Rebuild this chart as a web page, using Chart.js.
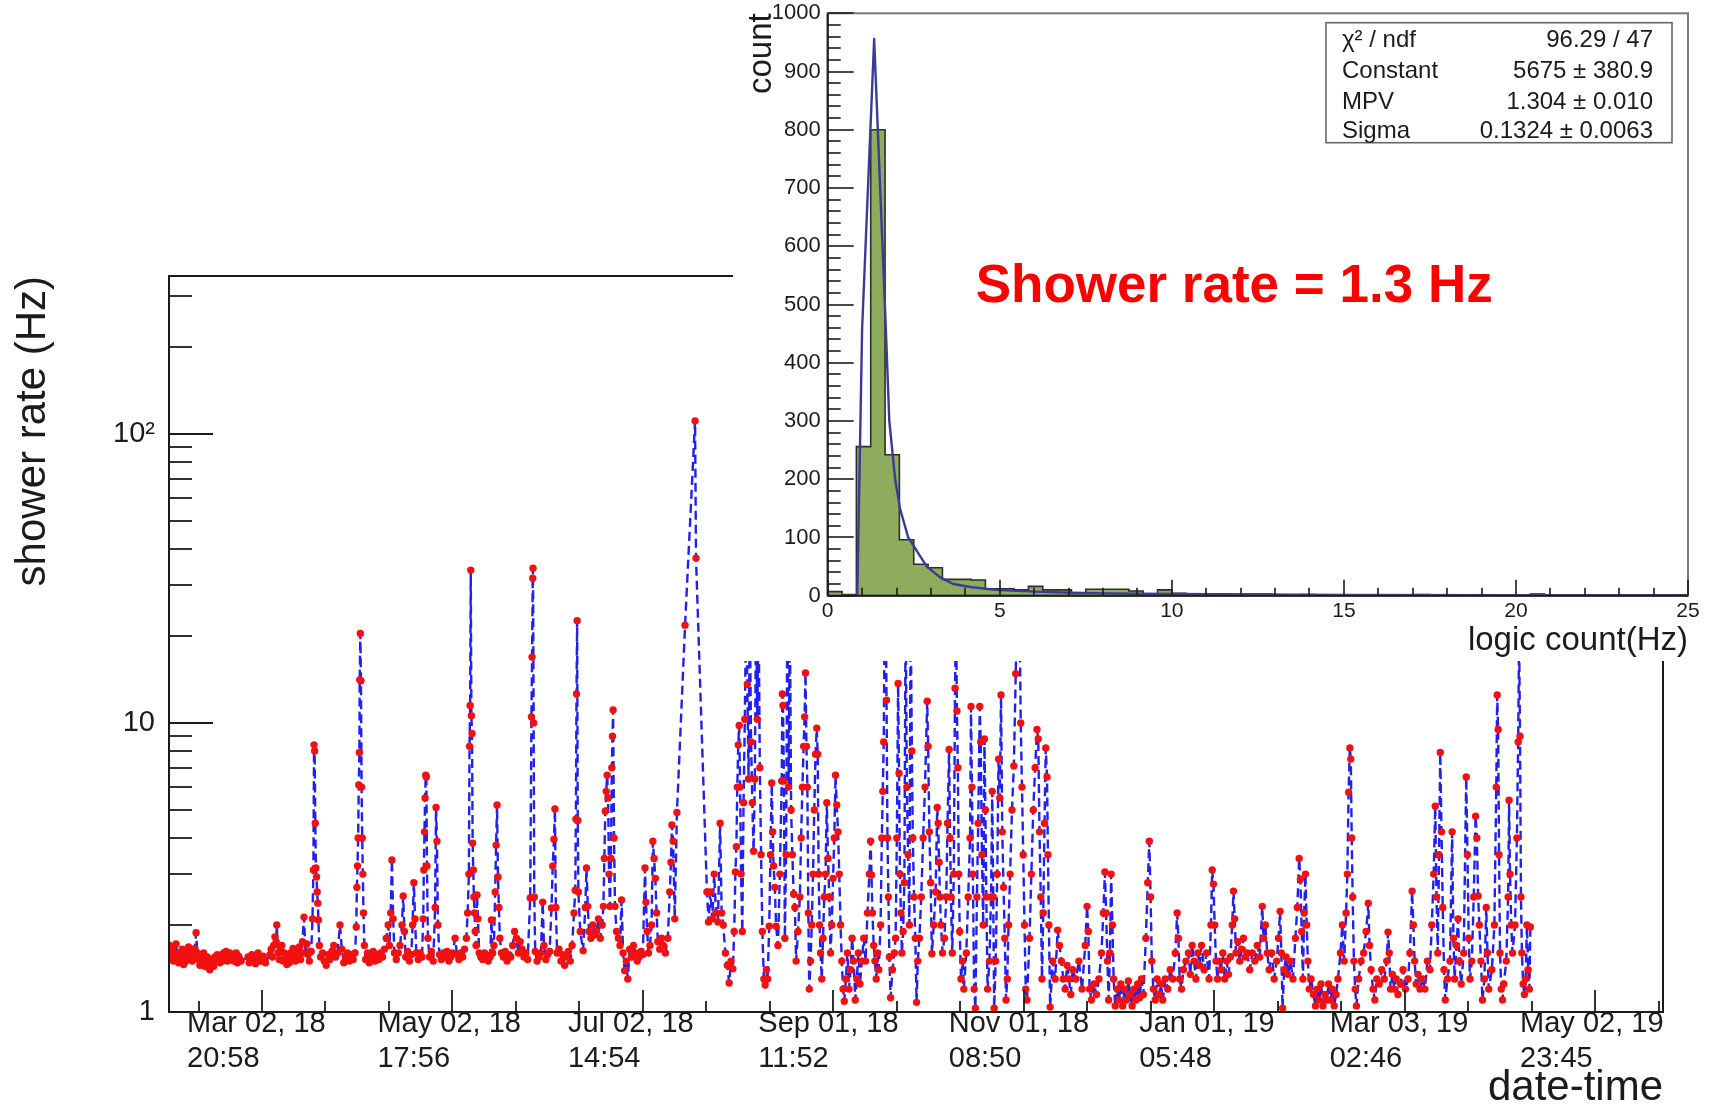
<!DOCTYPE html>
<html>
<head>
<meta charset="utf-8">
<script src="https://cdn.jsdelivr.net/npm/chart.js@4.4.1/dist/chart.umd.min.js"></script>
<style>
  html, body { margin: 0; padding: 0; background: #fff; overflow: hidden; }
  #wrap { position: relative; width: 1710px; height: 1104px; }
  #rate { position: absolute; left: 0; top: 0; }
  #hist { position: absolute; left: 733px; top: 0; background: #fff; }
</style>
</head>
<body>
<div id="wrap">
  <canvas id="rate" width="1710" height="1104"></canvas>
  <canvas id="hist" width="977" height="661"></canvas>
</div>
<script>
// shower rate vs time; time in days since 2018-01-01 00:00
const rateDays = [
  31.0, 31.4, 31.8, 32.2, 32.6, 33.0, 33.4, 33.8, 34.2, 34.6,
  35.0, 35.4, 35.8, 36.2, 36.6, 37.0, 37.4, 37.8, 38.2, 38.6,
  39.0, 39.4, 39.8, 40.2, 40.6, 41.0, 41.4, 41.8, 42.2, 42.6,
  43.0, 43.4, 43.8, 44.2, 44.6, 45.0, 45.4, 45.8, 46.2, 46.6,
  47.0, 47.4, 47.8, 48.2, 48.6, 49.0, 49.4, 49.8, 50.2, 50.6,
  51.0, 51.4, 51.8, 52.2, 52.6, 53.0, 53.4, 53.8, 54.2, 56.4,
  56.8, 57.2, 57.6, 58.0, 58.4, 58.8, 59.2, 59.6, 60.0, 60.4,
  60.8, 61.2, 61.6, 62.0, 63.4, 63.8, 64.2, 64.6, 65.0, 65.4,
  65.6, 66.0, 66.4, 66.8, 67.2, 67.6, 68.0, 68.4, 68.8, 69.2,
  69.6, 70.0, 70.4, 70.8, 71.2, 71.6, 72.0, 72.4, 72.8, 73.2,
  73.6, 73.8, 74.3, 74.8, 75.2, 75.6, 76.0, 76.3,
  76.6, 77.0, 77.3, 77.5, 77.7, 77.9, 78.1, 78.3, 78.5, 78.7,
  78.9, 79.2, 79.6, 80.2, 80.8, 81.4, 82.0, 82.6, 83.2, 83.8,
  84.4, 85.0, 85.8, 86.4, 87.0, 87.6, 88.2, 88.8, 89.4, 90.0,
  90.6, 91.0, 91.2, 91.4, 91.6, 91.8, 92.0, 92.1, 92.3, 92.5,
  92.7, 92.9, 93.1, 93.3, 93.6, 94.0, 94.6, 95.2, 95.8, 96.4,
  97.0, 97.6, 98.2, 98.8, 99.4, 100.0, 100.6, 101.2, 101.6, 102.0,
  102.4, 102.8, 103.2, 103.8, 104.4, 105.0, 105.6, 106.0, 106.4, 106.8,
  107.4, 108.0, 108.6, 109.0, 109.4, 109.8, 110.2, 110.8, 111.4, 112.0,
  112.4, 112.6, 112.8, 113.0, 113.2, 113.4, 113.6, 113.9, 114.4, 115.0,
  115.6, 116.2, 116.5, 116.8, 117.1, 117.6, 118.2, 118.8, 119.4, 120.0,
  120.6, 121.2, 121.8, 122.6, 123.2, 123.8, 124.4, 125.0, 125.6, 126.2,
  126.6, 127.0, 127.2, 127.4, 127.6, 127.8, 128.0, 128.2, 128.4, 128.6,
  128.8, 129.0, 129.3, 129.6, 129.9, 130.3, 130.8, 131.4, 132.0, 132.6,
  133.2, 133.8, 134.2, 134.6, 135.0, 135.4, 135.7, 136.0, 136.3, 136.6,
  136.9, 137.4, 138.0, 138.6, 139.2, 139.8, 140.4, 141.0, 141.6, 142.2,
  142.8, 143.4, 144.0, 144.6, 145.2, 145.8, 146.6, 147.0, 147.2, 147.4,
  147.5, 147.7, 147.9, 148.2, 148.8, 149.4, 150.0, 150.6, 151.0, 151.6,
  152.2, 152.8, 153.4, 153.8, 154.2, 154.5, 154.8, 155.2, 155.8, 156.4,
  157.0, 157.6, 158.2, 158.8, 159.4, 160.0, 160.6, 161.0, 161.2, 161.4,
  161.6, 161.8, 162.0, 162.6, 163.5, 164.2, 164.6, 165.0, 165.4, 166.0,
  166.6, 167.2, 167.8, 168.4, 169.0, 169.6, 170.0, 170.3, 170.6, 170.9,
  171.2, 171.5, 171.8, 172.1, 172.4, 172.7, 172.9, 173.1, 173.4, 173.7,
  174.2, 174.8, 175.3, 175.8, 176.3, 176.8, 177.3, 177.8, 178.4, 179.0,
  179.6, 180.2, 180.8, 181.4, 182.0, 182.6, 183.3, 183.6, 184.0, 184.4,
  184.9, 185.4, 185.8, 186.2, 186.6, 187.0, 187.4, 188.0, 188.6, 189.2,
  189.8, 190.6, 191.2, 191.6, 191.9, 192.3, 192.8, 193.5, 196.1, 199.3,
  199.6, 203.1, 203.6, 204.2, 204.8, 205.4, 206.0, 206.6, 207.3, 207.8,
  208.3, 209.0, 209.6, 210.2, 210.8, 211.4, 211.8, 212.2, 212.5, 212.8,
  213.1, 213.4, 213.7, 214.0, 214.4, 214.8, 215.2, 215.6, 216.0, 216.4,
  216.8, 217.2, 217.6, 218.0, 218.4, 218.8, 219.2, 219.6, 220.0, 220.4,
  220.8, 221.3, 221.7, 222.1, 222.5, 223.0, 223.4, 223.8, 224.1, 224.4,
  224.8, 225.2, 225.8, 226.4, 227.0, 227.2, 227.4, 227.7, 228.0, 228.4,
  228.8, 229.2, 229.6, 230.0, 230.4, 230.8, 231.2, 231.6, 232.2, 232.8,
  233.2, 233.6, 234.0, 234.3, 234.6, 234.9, 235.2, 235.5, 235.8, 236.2,
  236.6, 237.0, 237.4, 237.8, 238.2, 238.5, 238.8, 239.1, 239.4, 239.8,
  240.2, 240.6, 241.0, 241.4, 241.8, 242.2, 242.6, 243.0, 243.4, 243.8,
  244.2, 244.6, 245.0, 245.4, 245.8, 246.2, 246.6, 247.0, 247.5, 248.0,
  248.5, 249.0, 249.5, 250.0, 250.5, 251.0, 251.5, 252.0, 252.6, 253.2,
  253.8, 254.4, 255.0, 255.4, 255.7, 256.0, 256.4, 256.8, 257.2, 257.6,
  258.0, 258.6, 259.0, 259.3, 259.6, 259.9, 260.2, 260.5, 260.8, 261.1,
  261.4, 261.8, 262.4, 263.0, 263.4, 263.8, 264.2, 264.5, 264.8, 265.1,
  265.4, 265.8, 266.2, 266.6, 267.0, 267.4, 267.8, 268.2, 268.6, 268.9,
  269.3, 269.7, 270.1, 270.5, 271.0, 271.6, 272.2, 272.8, 273.5, 273.8,
  274.2, 274.6, 275.0, 275.6, 276.2, 276.7, 277.0, 277.3, 277.6, 277.9,
  278.4, 279.0, 279.6, 280.0, 280.5, 280.8, 281.1, 281.5, 282.0, 282.4,
  282.7, 283.0, 283.3, 283.6, 283.9, 284.3, 284.8, 285.2, 286.0, 286.6,
  287.2, 287.5, 287.8, 288.1, 288.5, 288.9, 289.4, 289.8, 290.3, 290.6,
  291.0, 291.4, 291.8, 292.1, 292.4, 292.8, 293.4, 293.9, 294.3, 294.6,
  294.9, 295.4, 295.9, 296.3, 296.7, 297.1, 297.5, 297.9, 298.3, 298.7,
  299.1, 299.5, 300.0, 300.6, 301.2, 301.8, 302.2, 302.6, 303.0, 303.4,
  303.8, 304.2, 304.6, 305.0, 305.4, 306.2, 306.8, 307.4, 308.0, 308.6,
  309.0, 309.4, 309.8, 310.2, 310.6, 311.0, 311.4, 311.8, 312.1, 312.4,
  312.8, 313.6, 314.4, 315.2, 315.8, 316.4, 317.0, 317.6, 318.2, 318.8,
  319.4, 320.0, 321.0, 322.0, 323.0, 324.0, 324.6, 325.0, 325.4, 326.0,
  326.8, 327.6, 328.4, 329.2, 329.8, 330.3, 330.7, 331.1, 331.5, 331.9,
  332.3, 332.7, 333.1, 333.6, 334.2, 334.8, 335.4, 336.0, 336.6, 337.2,
  337.8, 338.4, 339.0, 339.6, 340.2, 340.8, 341.4, 342.0, 342.6, 343.4,
  344.0, 344.5, 344.9, 345.3, 345.8, 346.4, 347.0, 347.6, 348.2, 348.8,
  349.6, 350.4, 351.2, 352.0, 352.8, 353.4, 353.8, 354.2, 354.8, 355.4,
  356.2, 357.0, 357.6, 358.2, 358.8, 359.4, 360.0, 360.6, 361.2, 362.0,
  362.8, 363.6, 364.2, 364.6, 365.0, 365.4, 365.8, 366.3, 366.8, 367.4,
  368.0, 368.6, 369.2, 369.8, 370.4, 371.0, 371.4, 371.8, 372.2, 372.8,
  373.4, 374.0, 374.6, 375.2, 375.8, 376.6, 377.4, 378.2, 379.0, 379.8,
  380.6, 381.0, 381.6, 382.2, 382.8, 383.6, 384.4, 385.2, 385.8, 386.3,
  386.7, 387.1, 387.6, 388.2, 388.8, 389.6, 390.4, 391.2, 391.8, 392.4,
  392.8, 393.2, 393.6, 394.0, 394.4, 394.8, 395.2, 395.6, 396.2, 397.0,
  397.6, 398.2, 398.8, 399.4, 400.0, 400.6, 401.2, 401.8, 402.4, 403.0,
  403.6, 404.2, 404.8, 405.6, 406.2, 406.8, 407.4, 407.8, 408.2, 408.6,
  408.9, 409.2, 409.5, 409.9, 410.3, 410.7, 411.4, 412.2, 413.0, 413.8,
  414.5, 414.9, 415.4, 416.0, 416.6, 417.2, 418.0, 418.8, 419.6, 420.4,
  420.8, 421.2, 421.6, 422.2, 422.8, 423.4, 424.0, 424.8, 425.6, 426.4,
  427.2, 427.8, 428.5, 428.9, 429.3, 429.8, 430.4, 431.0, 431.8, 432.6,
  433.4, 434.2, 434.8, 435.4, 435.9, 436.3, 436.7, 437.1, 437.5, 437.9,
  438.3, 438.7, 439.1, 439.8, 440.6, 441.3, 441.7, 442.1, 442.7, 443.2,
  443.6, 444.2, 445.0, 445.8, 446.2, 446.6, 447.0, 447.6, 448.2, 448.8,
  449.2, 449.6, 450.0, 450.5, 451.0, 451.6, 452.2, 452.6, 453.0, 454.0,
  454.8, 455.4, 455.7, 456.0, 456.3, 456.6, 457.0, 457.4, 457.8, 458.6,
  459.2, 459.5, 459.8, 460.2, 460.6, 461.4, 462.0, 462.4, 462.7, 463.0,
  463.3, 463.6, 464.0, 464.4, 464.8, 465.2, 465.6, 466.0, 466.3
];
const rateHz = [
  1.62, 1.7, 1.55, 1.66, 1.5, 1.6, 1.72, 1.55, 1.48, 1.6,
  1.52, 1.65, 1.46, 1.58, 1.5, 1.62, 1.68, 1.54, 1.6, 1.5,
  1.58, 1.66, 1.88, 1.6, 1.52, 1.45, 1.56, 1.5, 1.6, 1.44,
  1.5, 1.55, 1.42, 1.4, 1.47, 1.52, 1.44, 1.55, 1.5, 1.58,
  1.52, 1.48, 1.56, 1.5, 1.6, 1.54, 1.62, 1.5, 1.57, 1.6,
  1.52, 1.58, 1.5, 1.55, 1.6, 1.48, 1.56, 1.52, 1.5, 1.55,
  1.48, 1.52, 1.58, 1.5, 1.55, 1.47, 1.53, 1.6, 1.5, 1.55,
  1.5, 1.56, 1.52, 1.48, 1.58, 1.65, 1.55, 1.7, 1.82, 1.75,
  2.0, 1.6, 1.52, 1.65, 1.7, 1.5, 1.6, 1.58, 1.46, 1.55,
  1.48, 1.6, 1.52, 1.66, 1.55, 1.5, 1.62, 1.56, 1.68, 1.52,
  1.6, 1.75, 2.13, 1.6, 1.72, 1.58, 1.5, 1.62,
  1.62, 2.1, 3.1, 8.4, 8.0, 4.5, 3.15, 2.93, 2.6, 2.38,
  2.08, 1.7, 1.55, 1.6, 1.5, 1.45, 1.58, 1.52, 1.62, 1.7,
  1.55, 1.6, 2.0, 1.65, 1.48, 1.55, 1.6, 1.5, 1.58, 1.52,
  1.6, 1.97, 2.7, 3.2, 4.0, 6.1, 7.9, 14.1, 20.4, 14.0,
  6.0, 4.0, 3.0, 2.2, 1.7, 1.52, 1.6, 1.48, 1.55, 1.62,
  1.5, 1.58, 1.52, 1.6, 1.55, 1.65, 1.8, 2.0, 1.7, 2.2,
  3.36, 2.1, 1.6, 1.52, 1.6, 1.7, 2.0, 2.52, 1.9, 1.55,
  1.62, 1.5, 1.58, 2.0, 2.8, 2.1, 1.6, 1.52, 1.6, 1.55,
  2.1, 3.1, 4.2, 5.5, 6.6, 6.5, 3.2, 1.8, 1.55, 1.62,
  1.5, 2.3, 5.1, 3.9, 2.0, 1.58, 1.52, 1.6, 1.55, 1.62,
  1.5, 1.55, 1.6, 1.8, 1.58, 1.52, 1.6, 1.55, 1.65, 1.8,
  2.2, 3.0, 8.3, 11.5, 33.8, 10.6, 9.2, 3.84, 3.1, 2.5,
  2.2, 1.9, 1.7, 2.54, 2.1, 1.6, 1.55, 1.52, 1.6, 1.58,
  1.5, 1.55, 2.08, 1.6, 1.7, 2.6, 3.78, 5.2, 2.93, 2.3,
  1.8, 1.6, 1.55, 1.62, 1.5, 1.58, 1.55, 1.7, 1.9, 1.8,
  1.6, 1.75, 1.65, 1.55, 1.6, 1.52, 2.48, 10.5, 16.9, 31.7,
  34.3, 10.0, 2.5, 1.62, 1.5, 1.55, 1.6, 2.4, 1.7, 1.52,
  1.58, 1.62, 2.29, 3.2, 3.96, 5.04, 2.3, 1.6, 1.65, 1.5,
  1.58, 1.45, 1.55, 1.62, 1.5, 1.7, 2.2, 2.64, 4.65, 12.6,
  22.6, 4.6, 2.6, 1.9, 1.63, 2.3, 3.15, 2.32, 1.9, 1.8,
  2.0, 1.85, 1.9, 2.1, 1.8, 2.0, 2.32, 3.4, 4.95, 5.8,
  6.6, 5.5, 3.0, 2.32, 3.4, 7.0, 9.0, 11.1, 4.0, 2.32,
  1.9, 1.8, 1.7, 2.44, 1.6, 1.39, 1.5, 1.3, 1.65, 1.55,
  1.7, 1.6, 1.5, 1.55, 1.62, 1.58, 3.15, 2.4, 1.9, 1.6,
  1.7, 2.0, 3.9, 3.4, 2.9, 2.2, 1.75, 1.65, 1.8, 1.7,
  1.6, 1.8, 2.6, 3.3, 4.44, 3.9, 2.1, 4.9, 21.8, 111,
  37.2, 2.6, 2.05, 2.6, 2.1, 3.0, 2.2, 2.05, 4.5, 2.2,
  2.0, 1.6, 1.45, 1.26, 1.5, 1.41, 1.9, 3.05, 3.73, 6.0,
  8.4, 9.8, 6.0, 3.0, 1.9, 5.3, 10.3, 25, 13.6, 6.4,
  25, 8.6, 5.3, 3.6, 6.4, 25, 10.3, 25, 7.0, 3.5,
  1.9, 1.3, 1.24, 1.4, 1.3, 1.98, 3.5, 6.2, 4.2, 3.2,
  2.7, 1.98, 1.7, 3.0, 6.3, 12.6, 11.5, 6.3, 1.8, 3.5,
  25, 6.0, 25, 5.0, 3.5, 2.56, 2.3, 1.5, 1.9, 2.5,
  4.0, 6.0, 8.3, 10.5, 14.9, 8.3, 6.0, 2.2, 1.2, 1.5,
  2.0, 3.0, 5.0, 7.8, 9.6, 7.8, 3.0, 2.0, 1.6, 1.3,
  1.8, 2.5, 3.0, 5.3, 3.4, 2.5, 1.6, 2.0, 2.9, 4.0,
  6.6, 5.2, 4.2, 3.0, 2.0, 1.5, 1.2, 1.09, 1.3, 1.6,
  1.2, 1.4, 1.8, 1.5, 1.1, 1.3, 1.6, 1.25, 1.5, 1.8,
  1.5, 2.2, 3.0, 3.9, 2.98, 2.2, 1.7, 1.5, 1.3, 1.6,
  1.4, 2.0, 4.0, 5.8, 8.6, 25, 30, 12, 4.0, 2.5,
  1.55, 1.12, 1.4, 1.6, 1.8, 4.0, 13.7, 6.7, 3.0, 2.2,
  1.6, 1.9, 2.8, 25, 6.0, 3.5, 2.0, 25, 8.0, 4.0,
  2.5, 1.8, 1.08, 1.5, 1.8, 2.5, 4.0, 6.0, 11.9, 8.3,
  4.2, 2.8, 1.59, 2.0, 2.6, 5.1, 4.5, 3.3, 2.5, 2.0,
  1.6, 1.8, 2.5, 4.5, 8.1, 4.0, 2.5, 1.6, 3.0, 13.2,
  25, 11, 7.0, 3.0, 1.9, 1.3, 1.5, 1.2, 1.6, 2.5,
  4.0, 11.4, 6.0, 3.0, 1.2, 1.03, 2.5, 4.5, 11.4, 8.6,
  3.5, 2.0, 8.8, 5.0, 2.5, 1.2, 1.5, 2.5, 5.8, 2.5,
  1.03, 1.5, 3.0, 7.5, 5.5, 12.5, 4.2, 2.7, 1.8, 1.1,
  1.3, 2.0, 3.0, 5.0, 7.1, 14.8, 25, 30, 25, 10,
  6.0, 3.5, 2.0, 1.2, 1.1, 1.8, 3.0, 5.0, 7.0, 9.5,
  8.8, 4.2, 2.5, 1.3, 2.2, 4.5, 8.2, 6.5, 3.5, 2.0,
  1.04, 1.5, 1.3, 1.92, 1.7, 1.5, 1.3, 1.2, 1.45, 1.3,
  1.15, 1.4, 1.3, 1.5, 1.2, 1.7, 2.32, 1.9, 1.2, 1.1,
  1.25, 1.15, 1.3, 1.6, 2.2, 3.05, 2.2, 1.5, 1.1, 1.6,
  3.0, 2.0, 1.3, 1.05, 1.2, 1.1, 1.25, 1.05, 1.2, 1.1,
  1.28, 1.15, 1.05, 1.2, 1.1, 1.25, 1.12, 1.3, 1.15, 1.8,
  2.8, 3.9, 2.5, 1.5, 1.2, 1.1, 1.3, 1.15, 1.25, 1.1,
  1.3, 1.2, 1.4, 1.3, 1.6, 2.2, 1.8, 1.3, 1.2, 1.4,
  1.5, 1.6, 1.35, 1.7, 1.5, 1.3, 1.6, 1.45, 1.7, 1.4,
  1.6, 1.3, 2.0, 3.1, 2.77, 2.0, 1.5, 1.3, 1.5, 1.4,
  1.6, 1.3, 1.5, 1.35, 1.55, 2.0, 2.62, 2.1, 1.6, 1.75,
  1.5, 1.65, 1.8, 1.55, 1.6, 1.4, 1.6, 1.5, 1.7, 1.55,
  2.32, 1.8, 2.0, 1.6, 1.4, 1.6, 1.3, 1.5, 1.8, 2.23,
  1.6, 1.03, 1.4, 1.55, 1.35, 1.5, 1.3, 1.8, 2.3, 3.4,
  2.88, 1.9, 1.3, 2.2, 3.0, 2.0, 1.5, 1.2, 1.3, 1.15,
  1.05, 1.2, 1.1, 1.25, 1.05, 1.15, 1.1, 1.25, 1.1, 1.2,
  1.05, 1.15, 1.3, 1.6, 2.0, 1.5, 2.2, 3.0, 5.76, 8.2,
  7.5, 4.0, 2.5, 1.5, 1.2, 1.05, 1.3, 1.5, 1.6, 1.9,
  2.38, 1.7, 1.4, 1.2, 1.1, 1.3, 1.25, 1.4, 1.3, 1.5,
  1.89, 1.6, 1.2, 1.35, 1.2, 1.3, 1.15, 1.25, 1.4, 1.2,
  1.3, 1.6, 2.62, 2.0, 1.5, 1.25, 1.35, 1.2, 1.3, 1.2,
  1.5, 1.4, 2.0, 3.0, 5.15, 2.5, 1.6, 3.5, 7.9, 4.2,
  2.3, 1.4, 1.1, 1.3, 1.5, 4.2, 1.8, 1.3, 1.7, 2.1,
  1.5, 1.25, 1.6, 6.5, 3.5, 1.8, 1.3, 1.5, 2.5, 4.76,
  4.0, 2.52, 2.0, 1.5, 1.1, 1.3, 2.3, 1.6, 1.2, 1.4,
  2.0, 6.0, 12.5, 9.5, 3.5, 1.6, 1.2, 1.1, 1.25, 1.5,
  2.5, 5.4, 3.0, 2.0, 1.6, 2.0, 4.0, 8.6, 20, 9.0,
  2.5, 1.6, 1.25, 1.15, 1.3, 2.0, 1.4, 1.2, 1.97
];

// date axis: labelled ticks (days since 2018-01-01) and their labels
const dateTickDays = [60.874, 121.747, 182.621, 243.494, 304.368, 365.242, 426.115, 486.989];
const dateTickLabels = [
  ['Mar 02, 18', '20:58'], ['May 02, 18', '17:56'], ['Jul 02, 18', '14:54'], ['Sep 01, 18', '11:52'],
  ['Nov 01, 18', '08:50'], ['Jan 01, 19', '05:48'], ['Mar 03, 19', '02:46'], ['May 02, 19', '23:45']
];
const rateTickValues = [1, 10, 100];
const rateTickLabels = ['1', '10', '10\u00b2'];

// inset histogram: 60 bins over 0..25 Hz
const histRange = [0, 25];
const histCounts = [
  7, 2, 256, 800, 242, 96, 54, 48, 28, 28,
  27, 12, 12, 10, 16, 10, 10, 4, 11, 11,
  11, 8, 2, 10, 4, 1, 3, 3, 2, 3,
  3, 1, 1, 2, 0, 1, 0, 0, 0, 0,
  0, 2, 0, 0, 0, 0, 0, 0, 0, 3,
  0, 0, 0, 0, 0, 0, 0, 0, 0, 0
];
// fitted curve as drawn
const fitX = [0.86, 1.0, 1.35, 1.69, 1.79, 1.96, 2.1, 2.34, 2.88, 3.26, 3.65, 4.14, 4.9, 6.0, 7.1, 8.1, 10, 12.5, 15, 20, 25];
const fitY = [0, 458, 956, 457, 300, 200, 150, 100, 50, 32, 20, 15, 10, 7, 5, 4, 3, 2, 1.5, 1, 0.7];
const fitStatNames = ['\u03c7\u00b2 / ndf', 'Constant', 'MPV', 'Sigma'];
const fitStatValues = ['96.29 / 47', '5675 \u00b1 380.9', '1.304 \u00b1 0.010', '0.1324 \u00b1 0.0063'];
const rateNote = 'Shower rate = 1.3 Hz';

const FONT = '"Liberation Sans", Arial, Helvetica, sans-serif';
const INK = '#1b1b1b';

function line(ctx, x1, y1, x2, y2) {
  ctx.beginPath();
  ctx.moveTo(x1, y1);
  ctx.lineTo(x2, y2);
  ctx.stroke();
}

// ROOT style frame with inward ticks for the rate plot
const rateFrame = {
  id: 'rateFrame',
  afterDatasetsDraw(chart) {
    const {ctx, chartArea: a, scales: {x, y}} = chart;
    ctx.save();
    ctx.strokeStyle = INK;
    ctx.lineWidth = 2;
    ctx.strokeRect(a.left, a.top, a.right - a.left, a.bottom - a.top);
    ctx.lineWidth = 1.8;
    for (let dec = 1; dec <= y.max; dec *= 10) {
      for (let m = 1; m <= 9; m++) {
        const v = m * dec;
        if (v > y.max) break;
        const py = Math.round(y.getPixelForValue(v));
        line(ctx, a.left, py, a.left + (m === 1 ? 44 : 23), py);
      }
    }
    const step = (dateTickDays[1] - dateTickDays[0]) / 3;
    for (let k = -3; k <= 3 * dateTickDays.length; k++) {
      const v = dateTickDays[0] + k * step;
      if (v < x.min || v > x.max) continue;
      const px = Math.round(x.getPixelForValue(v));
      line(ctx, px, a.bottom, px, a.bottom - (k % 3 === 0 ? 22 : 11));
    }
    ctx.restore();
  }
};

new Chart(document.getElementById('rate'), {
  type: 'line',
  data: {
    datasets: [{
      label: 'shower rate',
      data: rateDays.map((d, i) => ({x: d, y: rateHz[i]})),
      borderColor: '#2020f0',
      borderWidth: 2.4,
      borderDash: [9, 5],
      borderJoinStyle: 'round',
      pointRadius: 3.7,
      pointBackgroundColor: '#f21010',
      pointBorderColor: '#f21010',
      pointBorderWidth: 0,
      tension: 0
    }]
  },
  options: {
    animation: false,
    responsive: false,
    devicePixelRatio: 1,
    layout: {padding: {left: 0, top: 276, right: 47, bottom: 0}},
    plugins: {legend: {display: false}, tooltip: {enabled: false}},
    scales: {
      x: {
        type: 'linear',
        min: 31.14,
        max: 508.7,
        afterBuildTicks: s => { s.ticks = dateTickDays.map(v => ({value: v})); },
        afterFit: s => { s.height = 92; s.paddingLeft = 0; s.paddingRight = 0; },
        grid: {display: false, drawTicks: false},
        border: {display: false},
        ticks: {
          autoSkip: false, maxRotation: 0, minRotation: 0,
          align: 'start', labelOffset: -75, padding: -6,
          color: INK, font: {family: FONT, size: 29, lineHeight: 1.22},
          callback: (v, i) => dateTickLabels[i]
        },
        title: {
          display: true, text: 'date-time', align: 'end', color: INK,
          font: {family: FONT, size: 42, lineHeight: 1.2},
          padding: {top: 0, bottom: -10}
        }
      },
      y: {
        type: 'logarithmic',
        min: 1,
        max: 352,
        afterBuildTicks: s => { s.ticks = rateTickValues.map(v => ({value: v})); },
        afterFit: s => { s.width = 169; s.paddingTop = 0; s.paddingBottom = 0; },
        grid: {display: false, drawTicks: false},
        border: {display: false},
        ticks: {
          autoSkip: false, padding: 14, color: INK,
          font: {family: FONT, size: 29},
          callback: (v, i) => rateTickLabels[i]
        },
        title: {
          display: true, text: 'shower rate (Hz)', align: 'end', color: INK,
          font: {family: FONT, size: 42, lineHeight: 1.2},
          padding: {top: 8, bottom: 0}
        }
      }
    }
  },
  plugins: [rateFrame]
});

// inset: frame, ticks, fit box and note
const histFrame = {
  id: 'histFrame',
  afterDatasetsDraw(chart) {
    const {ctx, chartArea: a, scales: {x, y}} = chart;
    ctx.save();
    ctx.lineWidth = 2;
    ctx.strokeStyle = '#7a7a7a';
    ctx.strokeRect(a.left, a.top, a.right - a.left, a.bottom - a.top);
    ctx.strokeStyle = INK;
    line(ctx, a.left, a.top, a.left, a.bottom);
    line(ctx, a.left, a.bottom, a.right, a.bottom);
    ctx.lineWidth = 1.6;
    for (let v = 0; v <= y.max; v += 20) {
      const py = Math.round(y.getPixelForValue(v));
      line(ctx, a.left, py, a.left + (v % 100 === 0 ? 26 : 13), py);
    }
    for (let v = 0; v <= x.max; v += 1) {
      const px = Math.round(x.getPixelForValue(v));
      line(ctx, px, a.bottom, px, a.bottom - (v % 5 === 0 ? 16 : 8));
    }

    // fit statistics box
    const bx = a.right - 16 - 346, by = a.top + 9.4, bw = 346, bh = 120;
    ctx.fillStyle = '#fff';
    ctx.fillRect(bx, by, bw, bh);
    ctx.strokeStyle = '#666';
    ctx.lineWidth = 1.6;
    ctx.strokeRect(bx, by, bw, bh);
    ctx.fillStyle = INK;
    ctx.font = '24px ' + FONT;
    ctx.textBaseline = 'alphabetic';
    const rows = [24, 55.5, 86.5, 115];
    fitStatNames.forEach((name, i) => {
      ctx.textAlign = 'left';
      ctx.fillText(name, bx + 16, by + rows[i]);
      ctx.textAlign = 'right';
      ctx.fillText(fitStatValues[i], bx + bw - 19, by + rows[i]);
    });

    ctx.fillStyle = '#ff0000';
    ctx.font = 'bold 53px ' + FONT;
    ctx.textAlign = 'left';
    ctx.fillText(rateNote, a.left + 148, a.top + 289);
    ctx.restore();
  }
};

const binWidth = (histRange[1] - histRange[0]) / histCounts.length;
const outline = histCounts.map((c, i) => ({x: histRange[0] + i * binWidth, y: c}));
outline.push({x: histRange[1], y: histCounts[histCounts.length - 1]});

new Chart(document.getElementById('hist'), {
  type: 'bar',
  data: {
    datasets: [
      {
        type: 'line', label: 'fit',
        data: fitX.map((v, i) => ({x: v, y: fitY[i]})),
        borderColor: '#3a3a98', borderWidth: 2.4, borderJoinStyle: 'round',
        pointRadius: 0, tension: 0, order: 1
      },
      {
        type: 'line', label: 'outline', data: outline, stepped: 'before',
        borderColor: '#2e2e2e', borderWidth: 1.6, pointRadius: 0, order: 2
      },
      {
        type: 'bar', label: 'counts',
        data: histCounts.map((c, i) => ({x: histRange[0] + (i + 0.5) * binWidth, y: c})),
        backgroundColor: '#8dac5c', borderWidth: 0,
        barPercentage: 1, categoryPercentage: 1, order: 3
      }
    ]
  },
  options: {
    animation: false,
    responsive: false,
    devicePixelRatio: 1,
    layout: {padding: {left: 0, top: 13.3, right: 22, bottom: 0}},
    plugins: {legend: {display: false}, tooltip: {enabled: false}},
    scales: {
      x: {
        type: 'linear', min: histRange[0], max: histRange[1], offset: false,
        afterFit: s => { s.height = 65.3; s.paddingLeft = 0; s.paddingRight = 0; },
        grid: {display: false, drawTicks: false},
        border: {display: false},
        ticks: {stepSize: 5, autoSkip: false, maxRotation: 0, padding: 3, color: INK,
                font: {family: FONT, size: 21, lineHeight: 1.2},
                callback: v => String(v)},
        title: {display: true, text: 'logic count(Hz)', align: 'end', color: INK,
                font: {family: FONT, size: 33, lineHeight: 1.2}, padding: {top: 0, bottom: 0}}
      },
      y: {
        min: 0, max: 1000,
        afterFit: s => { s.width = 94.7; s.paddingTop = 0; s.paddingBottom = 0; },
        grid: {display: false, drawTicks: false},
        border: {display: false},
        ticks: {stepSize: 100, autoSkip: false, padding: 7, color: INK,
                font: {family: FONT, size: 22},
                callback: v => String(v)},
        title: {display: true, text: 'count', align: 'end', color: INK,
                font: {family: FONT, size: 33, lineHeight: 1.2}, padding: {top: 9, bottom: 0}}
      }
    }
  },
  plugins: [histFrame]
});
</script>
</body>
</html>
